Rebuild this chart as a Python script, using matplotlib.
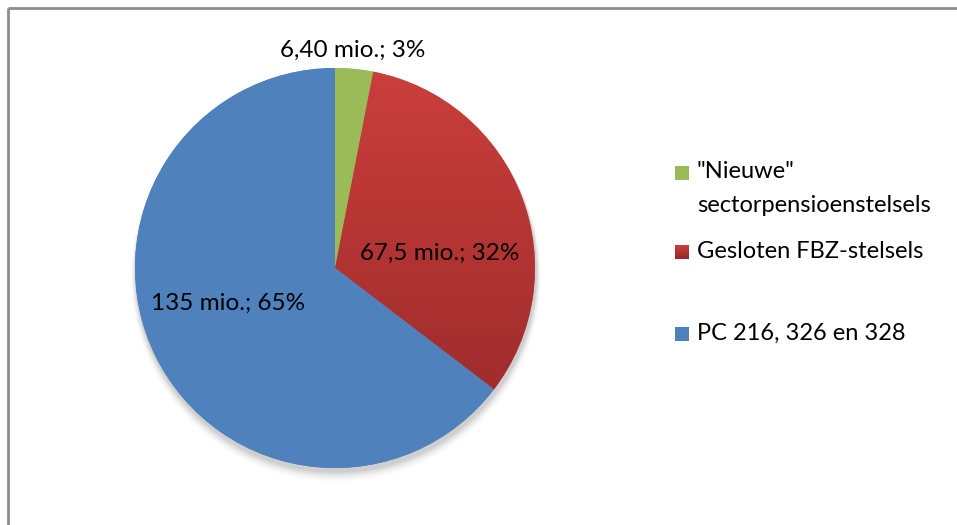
import numpy as np
import matplotlib
matplotlib.use("Agg")
import matplotlib.pyplot as plt
from matplotlib.patches import Rectangle, Circle
from matplotlib.colors import LinearSegmentedColormap

plt.rcParams["font.family"] = ["Lato", "DejaVu Sans"]

# slices, clockwise from 12 o'clock
labels = ['"Nieuwe"\nsectorpensioenstelsels', "Gesloten FBZ-stelsels", "PC 216, 326 en 328"]
values = [6.40, 67.5, 135.0]
value_text = ["6,40 mio.", "67,5 mio.", "135 mio."]
pct_text = ["3%", "32%", "65%"]

colors = ["#9BBB59", "#C0504D", "#4F81BD"]
grad_top = ["#9BBB59", "#CB3F3C", "#4F81BD"]
grad_bot = ["#9BBB59", "#952828", "#4F81BD"]

W, H = 957, 525
fig = plt.figure(figsize=(W / 100, H / 100), dpi=100)
ax = fig.add_axes([0, 0, 1, 1])

cx, cy, r = 335, H - 268, 200

# soft shadow under the pie
for i, a in enumerate(np.linspace(0.05, 0.012, 6)):
    ax.add_patch(Circle((cx + 1, cy - 4 - i), r + 1 + i * 0.8, color="black",
                        alpha=a, lw=0, zorder=1))

wedges, _ = ax.pie(values, center=(cx, cy), radius=r, startangle=90,
                   counterclock=False, colors=colors,
                   wedgeprops=dict(linewidth=0, zorder=2), frame=True)

# vertical gradient fill clipped to each wedge
for w, c0, c1 in zip(wedges, grad_top, grad_bot):
    cmap = LinearSegmentedColormap.from_list("g", [c1, c0])
    grad = np.linspace(0, 1, 256).reshape(-1, 1)
    im = ax.imshow(grad, cmap=cmap, extent=(cx - r, cx + r, cy - r, cy + r),
                   origin="lower", aspect="auto", zorder=3)
    im.set_clip_path(w)

# data labels (x centre, baseline)
label_pos = [(353, H - 57), (440, H - 260), (228, H - 310)]
for (x, y), v, p in zip(label_pos, value_text, pct_text):
    ax.text(x, y, f"{v}; {p}", ha="center", va="baseline", fontsize=17.5,
            color="black", zorder=5)

# legend: square centre y, then one baseline per text line
sq_y = [H - 173, H - 252, H - 334]
line_base = [[H - 178, H - 212], [H - 258], [H - 340]]
for lab, y, bases, c0, c1 in zip(labels, sq_y, line_base, grad_top, grad_bot):
    sq = Rectangle((675, y - 7), 14, 14, lw=0, color=c0, zorder=4)
    ax.add_patch(sq)
    cmap = LinearSegmentedColormap.from_list("g", [c1, c0])
    im = ax.imshow(np.linspace(0, 1, 32).reshape(-1, 1), cmap=cmap,
                   extent=(675, 689, y - 7, y + 7), origin="lower",
                   aspect="auto", zorder=4)
    im.set_clip_path(sq)
    for line, b in zip(lab.split("\n"), bases):
        ax.text(697, b, line, ha="left", va="baseline", fontsize=17, zorder=5)

# frame lines (top and left)
ax.plot([8, W], [H - 8, H - 8], color="#8C8C8C", lw=2, solid_capstyle="butt")
ax.plot([8, 8], [0, H - 8], color="#8C8C8C", lw=2, solid_capstyle="butt")

ax.set_xlim(0, W)
ax.set_ylim(0, H)
ax.set_aspect("auto")
ax.axis("off")

fig.savefig("out.png", dpi=100)
